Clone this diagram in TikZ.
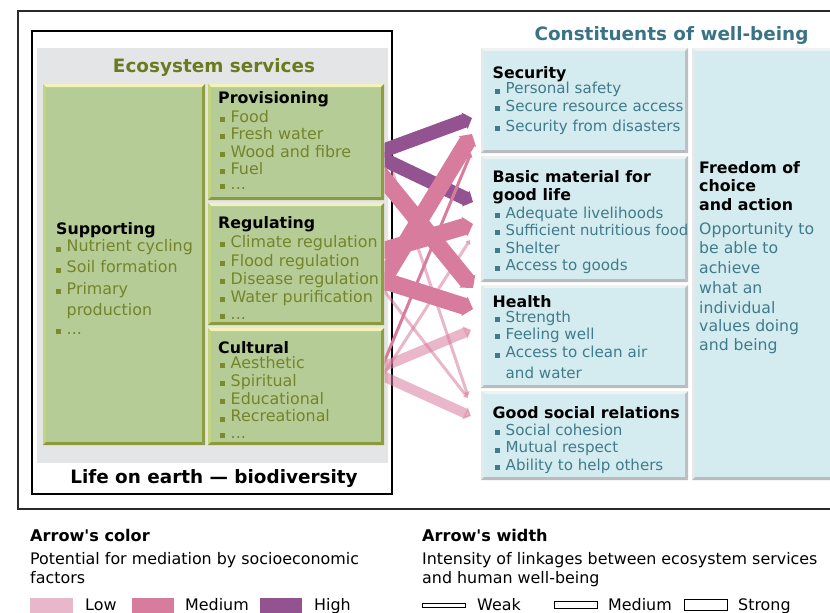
\documentclass[tikz,border=0pt]{standalone}
\usepackage{fontspec}
\setmainfont{DejaVu Sans}
\usetikzlibrary{arrows.meta}
\definecolor{olivetitle}{HTML}{6B7A1F}
\definecolor{oliveitem}{HTML}{74842A}
\definecolor{gbulc}{HTML}{7A8A2C}
\definecolor{tealtitle}{HTML}{3A7385}
\definecolor{tealitem}{HTML}{3F7B8B}
\definecolor{greenfill}{HTML}{B5CC96}
\definecolor{gtop}{HTML}{F4F2B6}
\definecolor{gleft}{HTML}{C3D47E}
\definecolor{gright}{HTML}{8F9E3D}
\definecolor{gbot}{HTML}{8C9A3A}
\definecolor{panelgray}{HTML}{E4E5E7}
\definecolor{bluefill}{HTML}{D4ECF0}
\definecolor{btop}{HTML}{EEF2F3}
\definecolor{bleft}{HTML}{E4EAEC}
\definecolor{bright}{HTML}{BDC0C2}
\definecolor{bbot}{HTML}{B9BCBE}
\definecolor{purplec}{HTML}{935390}
\definecolor{medc}{HTML}{D87C9E}
\definecolor{lowc}{HTML}{E8B8CA}
\definecolor{framec}{HTML}{2A2A2A}
\newcommand\gbul{{\color{gbulc}\rule{5pt}{5pt}}\hspace{5.5pt}}
\newcommand\bbul{{\color{tealitem}\rule{5pt}{5pt}}\hspace{5.5pt}}
\newcommand\bev[6]{%
  \fill[#3] (#1.north west) -- (#1.north east) -- ([shift={(-#2,-#2)}]#1.north east) -- ([shift={(#2,-#2)}]#1.north west) -- cycle;
  \fill[#4] (#1.north west) -- ([shift={(#2,-#2)}]#1.north west) -- ([shift={(#2,#2)}]#1.south west) -- (#1.south west) -- cycle;
  \fill[#5] (#1.north east) -- (#1.south east) -- ([shift={(-#2,#2)}]#1.south east) -- ([shift={(-#2,-#2)}]#1.north east) -- cycle;
  \fill[#6] (#1.south west) -- (#1.south east) -- ([shift={(-#2,#2)}]#1.south east) -- ([shift={(#2,#2)}]#1.south west) -- cycle;}
\newcommand\gl[4]{\node[gitem] (#1) at (#2,#3) {\gbul #4};}
\newcommand\bl[4]{\node[bitem] (#1) at (#2,#3) {\bbul #4};}
\begin{document}
\begin{tikzpicture}[x=1pt,y=-1pt,
  box/.style={anchor=north west, inner sep=0pt, outer sep=0pt},
  gbox/.style={box, fill=greenfill},
  bbox/.style={box, fill=bluefill},
  gitem/.style={anchor=base west, inner sep=0pt, text=oliveitem, font=\fontsize{15.9}{18}\selectfont},
  bitem/.style={anchor=base west, inner sep=0pt, text=tealitem, font=\fontsize{15.1}{18}\selectfont},
  fitem/.style={anchor=base west, inner sep=0pt, text=tealitem, font=\fontsize{15.7}{18}\selectfont},
  head/.style={anchor=base west, inner sep=0pt, text=black, font=\bfseries\fontsize{15.8}{18}\selectfont},
  bigtitle/.style={anchor=base, inner sep=0pt, font=\bfseries\fontsize{18.4}{22}\selectfont},
  lhead/.style={anchor=base west, inner sep=0pt, text=black, font=\bfseries\fontsize{16.1}{18}\selectfont},
  ltxt/.style={anchor=base west, inner sep=0pt, text=black, font=\fontsize{15.9}{18}\selectfont},
  swatch/.style={box, minimum width=43pt, minimum height=15pt},
  wbox/.style={draw=black, line width=0.9pt, fill=white, inner sep=0pt, minimum width=43pt},
  arr/.style={line cap=butt, shorten <=-12pt, -{Triangle[width=3pt 1, length=3pt 0.35]}},
  high/.style={arr, draw=purplec},
  med/.style={arr, draw=medc},
  low/.style={arr, draw=medc, opacity=0.55},
  strong/.style={line width=17pt},
  medium/.style={line width=10pt},
  weak/.style={line width=3pt}]
\useasboundingbox (0,0) rectangle (830,613);
\fill[white] (0,0) rectangle (830,613);
% outer frame
\draw[framec, line width=1.5pt] (832,11) -- (18,11) -- (18,509) -- (832,509);
% left frame and panel
\node[box, draw=black, line width=1.3pt, minimum width=360pt, minimum height=463pt] (lifeframe) at (32,31) {};
\node[box, fill=panelgray, minimum width=351pt, minimum height=415pt] (panel) at (37,48) {};
\node[bigtitle, text=olivetitle] (ectitle) at (214,72) {Ecosystem services};
\node[bigtitle, text=black] (life) at (214,483) {Life on earth — biodiversity};
% green boxes
\node[gbox, minimum width=162pt, minimum height=361pt] (supp) at (43,84) {};
\node[gbox, minimum width=176pt, minimum height=116pt] (prov) at (208,84) {};
\node[gbox, minimum width=176pt, minimum height=122pt] (reg) at (208,203) {};
\node[gbox, minimum width=176pt, minimum height=117pt] (cult) at (208,328) {};
\foreach \n in {supp,prov,reg,cult}{\bev{\n}{3pt}{gtop}{gleft}{gright}{gbot}}
% supporting
\node[head] (supph) at (56,234) {Supporting};
\gl{supp1}{56}{251.5}{Nutrient cycling}
\gl{supp2}{56}{272.5}{Soil formation}
\gl{supp3}{56}{294}{Primary}
\node[gitem] (supp3b) at (66.5,315) {production};
\gl{supp4}{56}{334}{...}
% provisioning
\node[head] (provh) at (218,103) {Provisioning};
\gl{prov1}{220}{122}{Food}
\gl{prov2}{220}{139}{Fresh water}
\gl{prov3}{220}{157}{Wood and fibre}
\gl{prov4}{220}{174}{Fuel}
\gl{prov5}{220}{189}{...}
% regulating
\node[head] (regh) at (218,228) {Regulating};
\gl{reg1}{220}{247}{Climate regulation}
\gl{reg2}{220}{266}{Flood regulation}
\gl{reg3}{220}{284}{Disease regulation}
\gl{reg4}{220}{302}{Water purification}
\gl{reg5}{220}{319}{...}
% cultural
\node[head] (culth) at (218,353) {Cultural};
\gl{cult1}{220}{368}{Aesthetic}
\gl{cult2}{220}{386}{Spiritual}
\gl{cult3}{220}{404}{Educational}
\gl{cult4}{220}{421.5}{Recreational}
\gl{cult5}{220}{438}{...}
% right side
\node[bigtitle, text=tealtitle] (cwtitle) at (671.5,40.5) {Constituents of well-being};
\node[bbox, minimum width=207pt, minimum height=105pt] (sec) at (481,48) {};
\node[bbox, minimum width=207pt, minimum height=126pt] (basic) at (481,156) {};
\node[bbox, minimum width=207pt, minimum height=103pt] (health) at (481,285) {};
\node[bbox, minimum width=207pt, minimum height=89pt] (social) at (481,391) {};
\node[bbox, minimum width=143pt, minimum height=432pt] (free) at (692,48) {};
\foreach \n in {sec,basic,health,social,free}{\bev{\n}{3pt}{btop}{bleft}{bright}{bbot}}
\node[head] (sech) at (492.5,78) {Security};
\bl{sec1}{495}{93.5}{Personal safety}
\bl{sec2}{495}{111}{Secure resource access}
\bl{sec3}{495}{131}{Security from disasters}
\node[head] (basich) at (492.5,182.5) {Basic material for};
\node[head] (basich2) at (492.5,200.7) {good life};
\bl{basic1}{495}{218}{Adequate livelihoods}
\node[bitem, font=\fontsize{14.8}{18}\selectfont] (basic2) at (495,235) {\bbul Sufficient nutritious food};
\bl{basic3}{495}{253}{Shelter}
\bl{basic4}{495}{270.5}{Access to goods}
\node[head] (healthh) at (492.5,307) {Health};
\bl{health1}{495}{322}{Strength}
\bl{health2}{495}{339}{Feeling well}
\bl{health3}{495}{357.7}{Access to clean air}
\node[bitem] (health3b) at (505.5,378) {and water};
\node[head] (socialh) at (492.5,418) {Good social relations};
\bl{social1}{495}{435}{Social cohesion}
\bl{social2}{495}{452.5}{Mutual respect}
\bl{social3}{495}{470}{Ability to help others}
\foreach \t/\y [count=\i] in {Freedom of/173, choice/191, and action/210}
  \node[head, name=freeh\i] at (699,\y) {\t};
\foreach \t/\y [count=\i] in {Opportunity to/234, be able to/253, achieve/273, what an/293, individual/313, values doing/331, and being/350}
  \node[fitem, name=free\i] at (699,\y) {\t};
% arrows
\coordinate (pa) at (385,150);
\coordinate (pb) at (385,160);
\coordinate (pc) at (385,180);
\coordinate (ra) at (385,250);
\coordinate (rb) at (385,277);
\coordinate (rc) at (385,281);
\coordinate (rd) at (385,292);
\coordinate (ca) at (385,360);
\coordinate (cb) at (385,372);
\coordinate (cc) at (385,366);
\coordinate (cd) at (385,377);
\coordinate (s1) at (472,118);
\coordinate (s2) at (472,134);
\coordinate (s3) at (471,153);
\coordinate (b1) at (473,202);
\coordinate (b2) at (473,224);
\coordinate (b3) at (470,240);
\coordinate (h1) at (473,288);
\coordinate (h2) at (473,309);
\coordinate (h3) at (471,330);
\coordinate (g1) at (468,396);
\coordinate (g2) at (468,398);
\coordinate (g3) at (471,416);
\begin{scope}
\clip (384.5,0) rectangle (480,500);
\draw[low, weak] (pa) -- (g1);
\draw[low, weak] (rd) -- (g2);
\draw[low, weak] (cb) -- (b3);
\draw[low, medium] (cc) -- (h3);
\draw[low, medium] (cd) -- (g3);
\draw[high, line width=14pt] (pa) -- (s1);
\draw[high, line width=14pt] (pb) -- (b1);
\draw[med, strong] (pc) -- (h1);
\draw[med, strong] (ra) -- (b2);
\draw[med, strong] (rc) -- (h2);
\draw[med, strong] (rb) -- (s2);
\draw[med, weak] (ca) -- (s3);
\end{scope}
% legend
\node[lhead] (colhead) at (30,541) {Arrow\textquotesingle s color};
\node[ltxt] (coldesc1) at (30,564) {Potential for mediation by socioeconomic};
\node[ltxt] (coldesc2) at (30,583) {factors};
\node[swatch, fill=lowc] (swlow) at (30,598) {};
\node[ltxt] (lowl) at (85,610) {Low};
\node[swatch, fill=medc, minimum width=42pt] (swmed) at (132,598) {};
\node[ltxt] (medl) at (185,610) {Medium};
\node[swatch, fill=purplec, minimum width=42pt] (swhigh) at (260,598) {};
\node[ltxt] (highl) at (314,610) {High};
\node[lhead] (widhead) at (422,541) {Arrow\textquotesingle s width};
\node[ltxt] (widdesc1) at (422,564) {Intensity of linkages between ecosystem services};
\node[ltxt] (widdesc2) at (422,583) {and human well-being};
\node[wbox, minimum height=4pt] (wweak) at (444,605) {};
\node[ltxt] (weakl) at (477,610) {Weak};
\node[wbox, minimum height=7pt] (wmed) at (575.5,605) {};
\node[ltxt] (medw) at (608,610) {Medium};
\node[wbox, minimum height=11pt] (wstrong) at (705.5,605) {};
\node[ltxt] (strongl) at (738,610) {Strong};
\end{tikzpicture}
\end{document}
